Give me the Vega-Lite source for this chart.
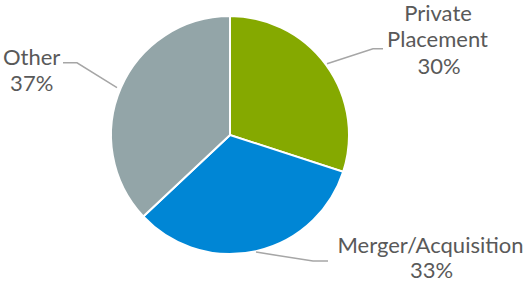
{
  "$schema": "https://vega.github.io/schema/vega-lite/v6.json",
  "width": 527,
  "height": 282,
  "padding": 0,
  "autosize": {"type": "fit", "contains": "padding"},
  "config": {"view": {"stroke": null}},
  "background": "white",
  "datasets": {
    "slices": [
      {"category": "Private Placement", "share": 30, "ord": 1, "cx": 0, "cy": 0},
      {"category": "Merger/Acquisition", "share": 33, "ord": 2, "cx": 0, "cy": 0},
      {"category": "Other", "share": 37, "ord": 3, "cx": 0, "cy": 0}
    ],
    "leaders": [
      {"grp": "Other", "seq": 1, "lx": -167, "ly": 72.5},
      {"grp": "Other", "seq": 2, "lx": -153, "ly": 72.5},
      {"grp": "Other", "seq": 3, "lx": -113, "ly": 47.5},
      {"grp": "Private", "seq": 1, "lx": 97, "ly": 71.5},
      {"grp": "Private", "seq": 2, "lx": 143, "ly": 86.5},
      {"grp": "Private", "seq": 3, "lx": 153, "ly": 86.5},
      {"grp": "Merger", "seq": 1, "lx": 26, "ly": -117.5},
      {"grp": "Merger", "seq": 2, "lx": 83, "ly": -126.5},
      {"grp": "Merger", "seq": 3, "lx": 98, "ly": -126.5}
    ],
    "labels": [
      {"txt": "Other", "tx": -198.3, "ty": 70.5},
      {"txt": "37%", "tx": -198.3, "ty": 44.5},
      {"txt": "Private", "tx": 208, "ty": 114.5},
      {"txt": "Placement", "tx": 207.5, "ty": 88},
      {"txt": "30%", "tx": 209, "ty": 61.5},
      {"txt": "Merger/Acquisition", "tx": 200.5, "ty": -118},
      {"txt": "33%", "tx": 201.5, "ty": -143.5}
    ]
  },
  "layer": [
    {
      "data": {"name": "slices"},
      "mark": {"type": "arc", "outerRadius": 119, "stroke": "white", "strokeWidth": 2},
      "encoding": {
        "theta": {"field": "share", "type": "quantitative", "stack": true},
        "order": {"field": "ord", "type": "quantitative"},
        "x": {"field": "cx", "type": "quantitative", "scale": {"domain": [-230, 297], "nice": false, "zero": false}, "axis": null},
        "y": {"field": "cy", "type": "quantitative", "scale": {"domain": [-146.5, 135.5], "nice": false, "zero": false}, "axis": null},
        "color": {
          "field": "category",
          "type": "nominal",
          "scale": {"domain": ["Private Placement", "Merger/Acquisition", "Other"], "range": ["#85A900", "#0086D5", "#93A5A8"]},
          "legend": null
        }
      }
    },
    {
      "data": {"name": "leaders"},
      "mark": {"type": "line", "stroke": "#A6A6A6", "strokeWidth": 1.5},
      "encoding": {
        "x": {"field": "lx", "type": "quantitative"},
        "y": {"field": "ly", "type": "quantitative"},
        "detail": {"field": "grp"},
        "order": {"field": "seq", "type": "quantitative"}
      }
    },
    {
      "data": {"name": "labels"},
      "mark": {"type": "text", "font": "Lato", "fontSize": 22, "fill": "#595959", "align": "center", "baseline": "alphabetic"},
      "encoding": {
        "x": {"field": "tx", "type": "quantitative"},
        "y": {"field": "ty", "type": "quantitative"},
        "text": {"field": "txt"}
      }
    }
  ]
}
